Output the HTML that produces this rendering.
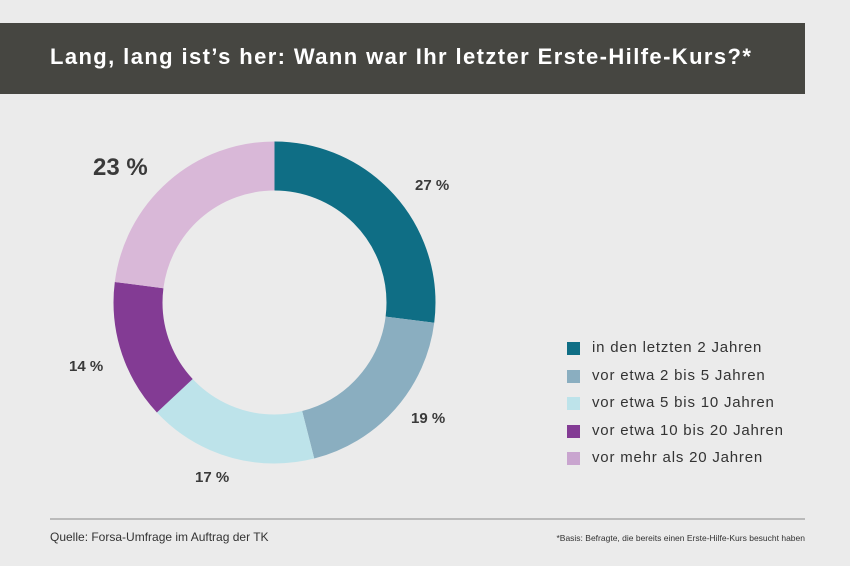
<!DOCTYPE html>
<html><head><meta charset="utf-8"><style>
body{margin:0;width:850px;height:566px;background:#ebebeb;font-family:"Liberation Sans",sans-serif;position:relative;overflow:hidden}
.hdr{position:absolute;left:0;top:23px;width:805px;height:71px;background:#464641}
.hdr span{position:absolute;left:50px;top:21px;color:#fff;font-weight:bold;font-size:22px;letter-spacing:1.4px;white-space:nowrap}
.t{position:absolute;color:#3a3a3a;font-weight:bold;font-size:15px}
.lg{position:absolute;left:567px;font-size:15px;color:#333}
.lg i{position:absolute;left:0;top:3px;width:13px;height:13px}
.lg span{position:absolute;left:25px;top:0;white-space:nowrap;letter-spacing:0.8px}
</style></head><body>
<div class="hdr"><span>Lang, lang ist’s her: Wann war Ihr letzter Erste-Hilfe-Kurs?*</span></div>
<svg width="850" height="566" style="position:absolute;left:0;top:0">
<g transform="rotate(-90 274.5 302.5)" fill="none" stroke-width="49">
<circle cx="274.5" cy="302.5" r="136.5" stroke="#0f6e85" stroke-dasharray="231.6 857.7" stroke-dashoffset="0"/>
<circle cx="274.5" cy="302.5" r="136.5" stroke="#8aaec0" stroke-dasharray="163 857.7" stroke-dashoffset="-231.6"/>
<circle cx="274.5" cy="302.5" r="136.5" stroke="#bde3ea" stroke-dasharray="145.8 857.7" stroke-dashoffset="-394.6"/>
<circle cx="274.5" cy="302.5" r="136.5" stroke="#833b94" stroke-dasharray="120.1 857.7" stroke-dashoffset="-540.4"/>
<circle cx="274.5" cy="302.5" r="136.5" stroke="#d9b8d8" stroke-dasharray="197.3 857.7" stroke-dashoffset="-660.5"/>
</g>
<line x1="50" y1="519" x2="805" y2="519" stroke="#8a8a8a" stroke-width="1"/>
</svg>
<div class="t" style="left:93px;top:154px;font-size:24px">23 %</div>
<div class="t" style="left:415px;top:177px">27 %</div>
<div class="t" style="left:411px;top:410px">19 %</div>
<div class="t" style="left:195px;top:469px">17 %</div>
<div class="t" style="left:69px;top:358px">14 %</div>
<div class="lg" style="top:339px"><i style="background:#0f6e85"></i><span>in den letzten 2 Jahren</span></div>
<div class="lg" style="top:367px"><i style="background:#8aaec0"></i><span>vor etwa 2 bis 5 Jahren</span></div>
<div class="lg" style="top:394px"><i style="background:#bde3ea"></i><span>vor etwa 5 bis 10 Jahren</span></div>
<div class="lg" style="top:422px"><i style="background:#833b94"></i><span>vor etwa 10 bis 20 Jahren</span></div>
<div class="lg" style="top:449px"><i style="background:#c9a5cf"></i><span>vor mehr als 20 Jahren</span></div>
<div style="position:absolute;left:50px;top:530px;font-size:12px;color:#333">Quelle: Forsa-Umfrage im Auftrag der TK</div>
<div style="position:absolute;right:45px;top:533px;font-size:8.5px;color:#333;white-space:nowrap">*Basis: Befragte, die bereits einen Erste-Hilfe-Kurs besucht haben</div>
</body></html>
